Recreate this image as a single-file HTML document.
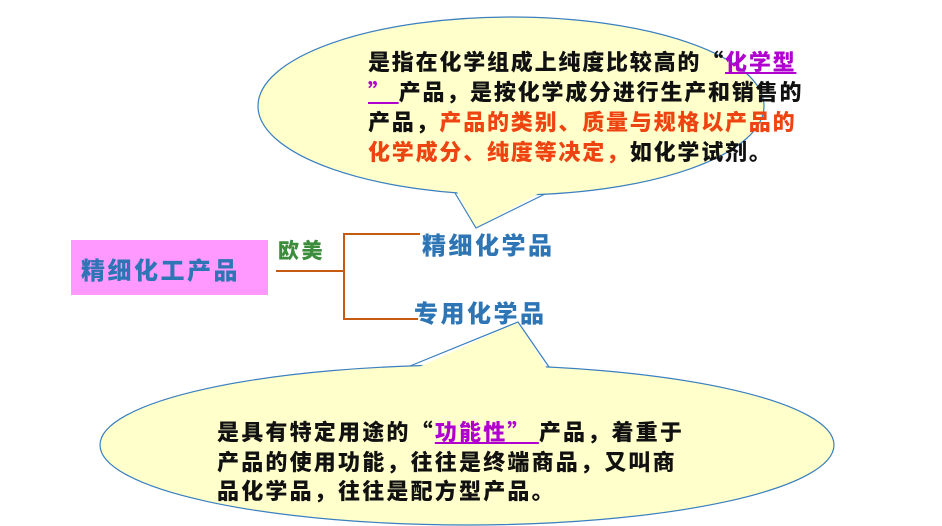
<!DOCTYPE html>
<html><head><meta charset="utf-8"><style>
body{margin:0;width:942px;height:526px;background:#fff;overflow:hidden;position:relative;font-family:"Noto Sans CJK SC","Liberation Sans",sans-serif;font-weight:900}
.t{position:absolute;white-space:nowrap}
.u{color:#b000d0;text-decoration:underline}
.r{color:#ee4411}
</style></head><body>
<svg width="942" height="526" style="position:absolute;left:0;top:0">
<ellipse cx="511" cy="106" rx="253" ry="89" fill="#ffffcc" stroke="#3a7fbf" stroke-width="1.2"/>
<polygon points="455,188 476,228 545,190" fill="#ffffcc"/>
<polyline points="455,193 476,228 545,194" fill="none" stroke="#3a7fbf" stroke-width="1.2"/>
<ellipse cx="467" cy="445" rx="367" ry="80" fill="#ffffcc" stroke="#3a7fbf" stroke-width="1.2"/>
<polygon points="410,371 518,322 549,372" fill="#ffffcc"/>
<polyline points="410,366 518,322 549,367" fill="none" stroke="#3a7fbf" stroke-width="1.2"/>
<rect x="71" y="240" width="197" height="55" fill="#ff99ff"/>
<path d="M276,271 H344 M420,234 H344 V319 H418" fill="none" stroke="#c55a11" stroke-width="2"/>
</svg>
<div class="t" style="left:368px;top:46px;font-size:22px;letter-spacing:1.8px;line-height:30px;color:#111">是指在化学组成上纯度比较高的“<span class="u">化学型</span><br><span class="u">”&nbsp;</span>产品，是按化学成分进行生产和销售的<br>产品，<span class="r">产品的类别、质量与规格以产品的</span><br><span class="r">化学成分、纯度等决定，</span>如化学试剂。</div>
<div class="t" style="left:81px;top:253px;font-size:24px;letter-spacing:2.5px;color:#2e75b6;line-height:32px">精细化工产品</div>
<div class="t" style="left:278px;top:236px;font-size:21px;letter-spacing:2.5px;color:#3b8c3b;line-height:28px">欧美</div>
<div class="t" style="left:422px;top:228px;font-size:24px;letter-spacing:2.5px;color:#2e75b6;line-height:32px">精细化学品</div>
<div class="t" style="left:414px;top:296px;font-size:24px;letter-spacing:2.5px;color:#2e75b6;line-height:32px">专用化学品</div>
<div class="t" style="left:217px;top:417px;font-size:22px;letter-spacing:2.2px;line-height:29.5px;color:#111">是具有特定用途的“<span class="u">功能性”&nbsp;</span>产品，着重于<br>产品的使用功能，往往是终端商品，又叫商<br>品化学品，往往是配方型产品。</div>
</body></html>
